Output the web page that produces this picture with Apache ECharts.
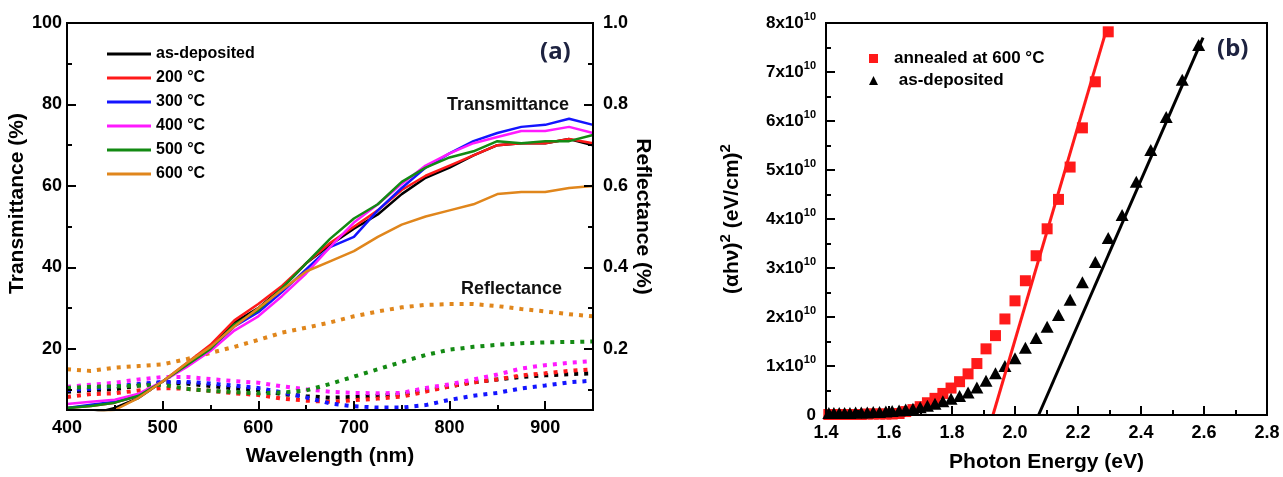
<!DOCTYPE html>
<html>
<head>
<meta charset="utf-8">
<script src="https://cdn.jsdelivr.net/npm/echarts@6.0.0/dist/echarts.min.js"></script>
<style>
  html, body { margin: 0; padding: 0; background: #fff; }
  #main { width: 1283px; height: 477px; }
</style>
</head>
<body>
<div id="main"></div>
<script>
// ---- panel (a): transmittance (%) and reflectance vs wavelength (nm)
const wavelength = [400, 425, 450, 475, 500, 525, 550, 575, 600, 625, 650, 675, 700, 725, 750, 775, 800, 825, 850, 875, 900, 925, 950]
const transAsDep = [3, 4, 5.5, 8, 12, 16, 20.5, 26.5, 30, 35, 41, 45.5, 49.5, 53, 58, 62, 64.5, 67.5, 70, 70.5, 70.5, 71.5, 70]
const trans200 = [5.5, 6, 6.8, 8.5, 12, 16.5, 21, 27, 31, 35.5, 41, 46, 50, 54, 59, 62.5, 65, 67.5, 70, 70.5, 70.5, 71.5, 70.5]
const trans300 = [5.5, 6.3, 7, 8.5, 12, 16, 20, 25.5, 29, 34, 39.5, 45, 47.5, 54, 59.5, 64.5, 68, 71, 73, 74.5, 75, 76.5, 75]
const trans400 = [6.5, 7, 7.5, 9, 12, 15.5, 19.5, 24.5, 28, 33, 38.5, 45, 51, 55.5, 60.5, 65, 68, 70.5, 72, 73.5, 73.5, 74.5, 73]
const trans500 = [5.5, 6, 6.8, 8.5, 12, 16, 20, 26, 29.5, 35, 41, 47, 52, 55.5, 61, 64.5, 67, 68.5, 71, 70.5, 71, 71, 72.5]
const trans600 = [3, 4, 5, 8, 12, 16.5, 20.5, 25.5, 30, 34.5, 39, 41.5, 44, 47.5, 50.5, 52.5, 54, 55.5, 58, 58.5, 58.5, 59.5, 60]

const reflAsDep = [0.095, 0.099, 0.101, 0.11, 0.117, 0.115, 0.109, 0.103, 0.099, 0.089, 0.084, 0.08, 0.082, 0.085, 0.088, 0.099, 0.108, 0.118, 0.125, 0.131, 0.135, 0.138, 0.14]
const refl200 = [0.082, 0.089, 0.091, 0.098, 0.104, 0.102, 0.097, 0.091, 0.087, 0.078, 0.073, 0.07, 0.074, 0.078, 0.083, 0.095, 0.108, 0.118, 0.125, 0.135, 0.14, 0.146, 0.15]
const refl300 = [0.099, 0.102, 0.108, 0.114, 0.119, 0.119, 0.115, 0.11, 0.104, 0.093, 0.081, 0.066, 0.059, 0.056, 0.056, 0.062, 0.075, 0.085, 0.092, 0.103, 0.11, 0.118, 0.122]
const refl400 = [0.107, 0.112, 0.117, 0.125, 0.131, 0.131, 0.126, 0.121, 0.117, 0.108, 0.101, 0.095, 0.092, 0.091, 0.092, 0.104, 0.113, 0.125, 0.137, 0.152, 0.16, 0.166, 0.17]
const refl500 = [0.104, 0.107, 0.108, 0.11, 0.112, 0.102, 0.097, 0.094, 0.091, 0.093, 0.098, 0.114, 0.132, 0.15, 0.168, 0.185, 0.198, 0.205, 0.21, 0.214, 0.216, 0.217, 0.218]
const refl600 = [0.15, 0.146, 0.154, 0.158, 0.162, 0.175, 0.19, 0.205, 0.222, 0.24, 0.252, 0.265, 0.28, 0.292, 0.302, 0.308, 0.31, 0.31, 0.305, 0.298, 0.292, 0.285, 0.28]

const namesA = ['as-deposited', '200 °C', '300 °C', '400 °C', '500 °C', '600 °C']
const colorsA = ['#000000', '#ff1a1a', '#1414ff', '#ff1aff', '#138a13', '#e0861c']
const transAll = [transAsDep, trans200, trans300, trans400, trans500, trans600]
const reflAll = [reflAsDep, refl200, refl300, refl400, refl500, refl600]

// ---- panel (b): (alpha h nu)^2 in units of 1e10 (eV/cm)^2 vs photon energy (eV)
const energy = [1.409, 1.425, 1.442, 1.459, 1.476, 1.494, 1.512, 1.531, 1.550, 1.570, 1.590, 1.610, 1.632, 1.653, 1.676, 1.699, 1.722, 1.746, 1.771, 1.797, 1.824, 1.851, 1.879, 1.908, 1.938, 1.968, 2.000, 2.033, 2.067, 2.102, 2.138, 2.175, 2.214, 2.255, 2.296, 2.340, 2.385, 2.431, 2.480, 2.531, 2.583]
const absAsDep = [0.04, 0.04, 0.04, 0.04, 0.04, 0.05, 0.05, 0.05, 0.06, 0.06, 0.07, 0.08, 0.09, 0.11, 0.13, 0.16, 0.19, 0.23, 0.28, 0.33, 0.39, 0.46, 0.56, 0.70, 0.85, 1.00, 1.16, 1.37, 1.57, 1.80, 2.04, 2.35, 2.71, 3.12, 3.61, 4.08, 4.76, 5.41, 6.08, 6.84, 7.55]
const absAnnealed = [0.01, 0.01, 0.01, 0.01, 0.01, 0.01, 0.01, 0.02, 0.02, 0.02, 0.02, 0.02, 0.03, 0.07, 0.11, 0.17, 0.25, 0.34, 0.44, 0.55, 0.68, 0.84, 1.05, 1.35, 1.62, 1.96, 2.33, 2.74, 3.25, 3.8, 4.4, 5.06, 5.86, 6.8, 7.82]
// linear fits (Tauc extrapolation)
const fitAnnealedE = [1.93, 2.292]
const fitAnnealedY = [0, 7.9]
const fitAsDepE = [2.075, 2.597]
const fitAsDepY = [0, 7.7]

const pair = (xs, ys) => ys.map((y, i) => [xs[i], y])

var chartDom = document.getElementById('main')
var myChart = echarts.init(chartDom, null, { renderer: 'canvas' })

const FONT = "'Liberation Sans', Arial, sans-serif"
const black = '#000'
const tickLabel = { color: black, fontSize: 18, fontWeight: 'bold', fontFamily: FONT }
const axisName = { color: black, fontSize: 21, fontWeight: 'bold', fontFamily: FONT }

function mainAxis(extra) {
  return Object.assign({
    type: 'value',
    z: 5,
    axisLine: { show: true, onZero: false, lineStyle: { color: black, width: 2 } },
    axisTick: { show: true, inside: true, length: 9, lineStyle: { color: black, width: 2 } },
    splitLine: { show: false },
    nameLocation: 'middle',
    nameTextStyle: axisName
  }, extra)
}
function minorAxis(extra, ticks) {
  return Object.assign({
    type: 'value',
    z: 5,
    axisLine: { show: false, onZero: false },
    axisLabel: { show: false },
    axisTick: { show: true, inside: true, length: 5, customValues: ticks, lineStyle: { color: black, width: 2 } },
    splitLine: { show: false }
  }, extra)
}

const seriesA = []
namesA.forEach((name, i) => {
  seriesA.push({
    name: name, type: 'line', xAxisIndex: 0, yAxisIndex: 2,
    data: pair(wavelength, reflAll[i]),
    symbol: 'none', silent: true,
    color: colorsA[i],
    lineStyle: { color: colorsA[i], width: 4, type: [4, 6], cap: 'butt' }
  })
})
namesA.forEach((name, i) => {
  seriesA.push({
    name: name, type: 'line', xAxisIndex: 0, yAxisIndex: 0,
    data: pair(wavelength, transAll[i]),
    symbol: 'none', silent: true,
    color: colorsA[i],
    lineStyle: { color: colorsA[i], width: 2.5 }
  })
})

const xMajorA = [400, 500, 600, 700, 800, 900]
const yMajorA = [20, 40, 60, 80, 100]
const yMajorR = [0.2, 0.4, 0.6, 0.8, 1.0]

var option = {
  backgroundColor: '#fff',
  animation: false,
  textStyle: { fontFamily: FONT },
  grid: [
    { left: 67, top: 23, width: 526, height: 387, show: true, borderColor: black, borderWidth: 2, outerBoundsMode: 'none', containLabel: false },
    { left: 826, top: 23, width: 441, height: 392, show: true, borderColor: black, borderWidth: 2, outerBoundsMode: 'none', containLabel: false }
  ],
  legend: [
    {
      data: namesA, orient: 'vertical', left: 102, top: 41,
      icon: 'rect', itemWidth: 44, itemHeight: 3, itemGap: 8,
      textStyle: { color: black, fontSize: 16, fontWeight: 'bold', fontFamily: FONT }
    },
    {
      data: [{ name: 'annealed at 600 °C', icon: 'rect' }, { name: ' as-deposited', icon: 'triangle' }],
      orient: 'vertical', left: 864, top: 45,
      itemWidth: 9, itemHeight: 9, itemGap: 5,
      textStyle: { color: black, fontSize: 17, fontWeight: 'bold', fontFamily: FONT, padding: [0, 0, 0, 11] }
    }
  ],
  xAxis: [
    mainAxis({
      gridIndex: 0, position: 'bottom', min: 400, max: 950,
      axisTick: { show: true, inside: true, length: 9, customValues: xMajorA, lineStyle: { color: black, width: 2 } },
      axisLabel: Object.assign({ customValues: xMajorA, margin: 9 }, tickLabel),
      name: 'Wavelength (nm)', nameGap: 36
    }),
    minorAxis({ gridIndex: 0, position: 'bottom', min: 400, max: 950 }, [450, 550, 650, 750, 850]),
    mainAxis({
      gridIndex: 1, position: 'bottom', min: 1.4, max: 2.8, interval: 0.2,
      minorTick: { show: true, splitNumber: 2, length: 5, lineStyle: { color: black, width: 2 } },
      axisLabel: Object.assign({ margin: 9, formatter: v => v.toFixed(1) }, tickLabel),
      name: 'Photon Energy (eV)', nameGap: 37
    })
  ],
  yAxis: [
    mainAxis({
      gridIndex: 0, position: 'left', min: 5, max: 100,
      axisTick: { show: true, inside: true, length: 9, customValues: yMajorA, lineStyle: { color: black, width: 2 } },
      axisLabel: Object.assign({ customValues: yMajorA, margin: 5 }, tickLabel),
      name: 'Transmittance (%)', nameGap: 34,
      nameTextStyle: Object.assign({ padding: [0, 0, 0, 26] }, axisName)
    }),
    minorAxis({ gridIndex: 0, position: 'left', min: 5, max: 100 }, [10, 30, 50, 70, 90]),
    mainAxis({
      gridIndex: 0, position: 'right', min: 0.05, max: 1.0,
      axisTick: { show: true, inside: true, length: 9, customValues: yMajorR, lineStyle: { color: black, width: 2 } },
      axisLabel: Object.assign({ customValues: yMajorR, margin: 10, formatter: v => v.toFixed(1) }, tickLabel),
      name: 'Reflectance (%)', nameGap: 26, nameRotate: -90
    }),
    minorAxis({ gridIndex: 0, position: 'right', min: 0.05, max: 1.0 }, [0.1, 0.3, 0.5, 0.7, 0.9]),
    mainAxis({
      gridIndex: 1, position: 'left', min: 0, max: 8, interval: 1,
      minorTick: { show: true, splitNumber: 2, length: 5, lineStyle: { color: black, width: 2 } },
      axisLabel: {
        margin: 10,
        formatter: v => v === 0 ? '{a|0}' : '{a|' + v + 'x10}{s|10}',
        rich: {
          a: { color: black, fontSize: 17, fontWeight: 'bold', fontFamily: FONT, lineHeight: 24 },
          s: { color: black, fontSize: 11, fontWeight: 'bold', fontFamily: FONT, lineHeight: 10, verticalAlign: 'top' }
        }
      },
      name: '{t|(αhν)}{s|2}{t| (eV/cm)}{s|2}', nameGap: 80,
      nameTextStyle: {
        rich: {
          t: { color: black, fontSize: 21, fontWeight: 'bold', fontFamily: FONT, lineHeight: 28 },
          s: { color: black, fontSize: 15, fontWeight: 'bold', fontFamily: FONT, lineHeight: 14, verticalAlign: 'top' }
        }
      }
    })
  ],
  graphic: [
    { type: 'text', left: 540, top: 40, style: { text: '(a)', fill: '#1d2240', font: "bold 24px 'Noto Sans', sans-serif" } },
    { type: 'text', left: 1217, top: 37, style: { text: '(b)', fill: '#1d2240', font: "bold 24px 'Noto Sans', sans-serif" } },
    { type: 'text', left: 447, top: 96, style: { text: 'Transmittance', fill: '#111', font: "bold 18px 'Liberation Sans', Arial, sans-serif" } },
    { type: 'text', left: 461, top: 280, style: { text: 'Reflectance', fill: '#111', font: "bold 18px 'Liberation Sans', Arial, sans-serif" } }
  ],
  series: seriesA.concat([
    {
      name: 'annealed at 600 °C', type: 'scatter', xAxisIndex: 2, yAxisIndex: 4,
      data: pair(energy, absAnnealed), symbol: 'rect', symbolSize: 11,
      itemStyle: { color: '#ff1a1a', opacity: 1 }, silent: true
    },
    {
      name: ' as-deposited', type: 'scatter', xAxisIndex: 2, yAxisIndex: 4,
      data: pair(energy, absAsDep), symbol: 'triangle', symbolSize: [13, 12],
      itemStyle: { color: '#000', opacity: 1 }, silent: true
    },
    {
      name: 'fit annealed', type: 'line', xAxisIndex: 2, yAxisIndex: 4,
      data: pair(fitAnnealedE, fitAnnealedY), symbol: 'none', silent: true,
      lineStyle: { color: '#ff1a1a', width: 3 }
    },
    {
      name: 'fit as-deposited', type: 'line', xAxisIndex: 2, yAxisIndex: 4,
      data: pair(fitAsDepE, fitAsDepY), symbol: 'none', silent: true,
      lineStyle: { color: '#000', width: 3 }
    }
  ])
}

option && myChart.setOption(option)
</script>
</body>
</html>
